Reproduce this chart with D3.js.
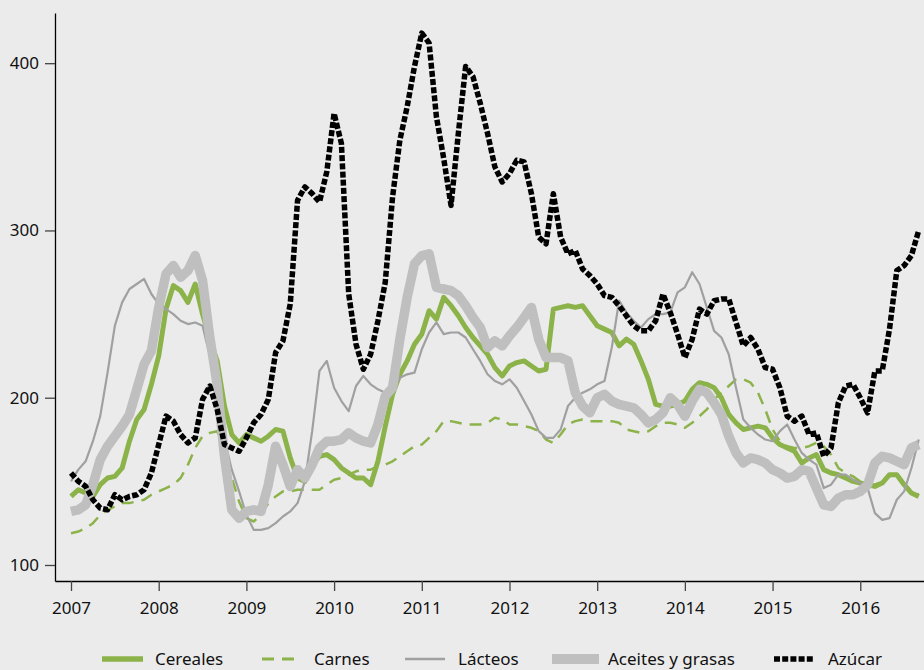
<!DOCTYPE html>
<html>
<head>
<meta charset="utf-8">
<script src="https://cdn.jsdelivr.net/npm/d3@7"></script>
<style>
  html, body { margin: 0; padding: 0; background: #ebebeb; }
  svg { display: block; }
  text { font-family: "Noto Sans", "Open Sans", sans-serif; fill: #111; }
</style>
</head>
<body>
<svg id="chart" width="924" height="670"></svg>
<script>
// ---- DATA (monthly, Jan 2007 .. Sep 2016) ----
const startYear = 2007;
const yearLabels = ["2007","2008","2009","2010","2011","2012","2013","2014","2015","2016"];
const yTicks = [100, 200, 300, 400];
const seriesNames = ["Cereales", "Carnes", "Lácteos", "Aceites y grasas", "Azúcar"];

const cereales = [
  141,145,143,141,148,152,153,158,174,187,193,208,225,253,267,264,257,268,250,235,222,195,178,173,178,176,174,177,181,180,
  164,152,150,160,165,166,163,158,155,152,152,148,162,183,202,214,222,232,238,252,247,260,255,249,242,236,231,226,218,213,219,
  221,222,219,216,217,253,254,255,254,255,249,243,241,239,231,235,232,222,211,196,195,195,196,198,205,209,208,206,200,190,
  185,181,182,183,182,176,172,170,168,161,164,166,157,155,154,152,150,149,148,147,149,154,154,148,143,141
];
const carnes = [
  119,120,122,125,130,133,135,137,137,138,139,142,144,146,148,152,160,170,177,179,180,170,152,138,128,126,130,137,141,144,
  144,145,145,145,145,148,151,152,154,156,157,157,159,160,162,165,168,171,172,176,180,186,186,185,184,184,184,185,188,187,184,
  184,183,182,180,175,173,178,184,186,187,186,186,186,186,185,181,180,179,180,183,185,185,184,182,185,189,193,199,203,207,
  211,211,209,203,193,181,174,171,170,170,171,173,171,166,158,155,153,150,149,148,150,153,154,149,144,142
];
const lacteos = [
  150,157,162,174,189,215,243,257,265,268,271,262,256,253,250,246,244,245,243,225,200,175,157,144,130,121,121,122,125,129,
  132,137,150,180,216,222,206,198,192,207,213,208,205,203,204,212,214,215,229,239,245,238,239,239,236,229,222,214,210,208,211,
  206,198,190,180,176,176,181,195,200,203,205,208,210,230,258,251,246,242,247,250,250,251,263,266,275,268,254,240,236,226,
  206,187,182,178,175,174,180,184,175,167,163,160,146,148,154,154,151,149,146,131,127,128,139,144,158,175
];
const aceites = [
  132,133,136,148,163,171,177,183,190,205,220,228,254,274,279,272,276,285,270,236,208,165,133,128,132,133,132,148,171,160,
  147,157,152,160,170,174,174,175,179,176,174,173,184,201,206,235,260,280,285,286,266,265,264,261,255,248,242,230,234,231,237,
  242,248,254,235,224,224,224,222,203,195,191,200,202,198,196,195,194,190,185,187,191,200,196,189,198,205,203,197,190,177,
  167,161,164,163,161,157,155,152,153,157,156,146,136,135,140,142,142,144,148,161,165,164,162,160,170,172
];
const azucar = [
  155,150,147,139,134,133,142,139,141,142,145,155,172,189,186,178,173,176,199,207,193,172,170,168,176,185,190,199,227,234,
  256,318,326,322,317,335,370,352,262,232,217,226,246,269,320,354,374,398,418,412,368,343,315,358,398,392,376,358,338,329,334,
  342,341,322,296,292,322,296,286,288,277,273,268,261,260,255,249,243,240,240,246,262,251,238,224,235,253,250,258,259,259,
  245,231,236,229,218,217,206,189,186,189,178,179,165,170,197,207,208,200,191,216,216,241,276,279,285,300
];
const seriesValues = [cereales, carnes, lacteos, aceites, azucar];

// ---- STYLES ----
const styles = [
  { color: "#8cb34a", width: 5,   dash: null },
  { color: "#8cb34a", width: 2.5, dash: "12,8" },
  { color: "#a0a0a0", width: 2.2, dash: null },
  { color: "#bfbfbf", width: 9.5, dash: null },
  { color: "#000000", width: 5.5, dash: "6,2.2" }
];
const legendX = [102, 262, 405, 552, 774];
const legendW = [41, 33, 40, 47, 41];
const legendTextX = [155, 314, 458, 608, 828];

const svg = d3.select("#chart");

const x = d3.scaleLinear().domain([-2.19, 116.72]).range([55, 924]);
const y = d3.scaleLinear().domain([90.43, 430]).range([581, 13]);

// clip for plot
svg.append("defs").append("clipPath").attr("id", "clip")
  .append("rect").attr("x", 55).attr("y", 0).attr("width", 869).attr("height", 581);

const line = d3.line().x((d, i) => x(i)).y(d => y(d));

const plot = svg.append("g").attr("clip-path", "url(#clip)");
seriesValues.forEach((vals, k) => {
  const st = styles[k];
  plot.append("path")
    .datum(vals)
    .attr("d", line)
    .attr("fill", "none")
    .attr("stroke", st.color)
    .attr("stroke-width", st.width)
    .attr("stroke-linejoin", "round")
    .attr("stroke-dasharray", st.dash);
});

// axes
const xAxis = d3.axisBottom(x)
  .tickValues(yearLabels.map((yl) => (+yl - startYear) * 12))
  .tickFormat((d, i) => yearLabels[i])
  .tickSize(10).tickSizeOuter(0).tickPadding(11);
const gx = svg.append("g").attr("transform", "translate(0,581)").call(xAxis);
gx.select(".domain").attr("stroke", "#000").attr("stroke-width", 1.3);
gx.selectAll(".tick line").attr("stroke", "#444").attr("stroke-width", 1.3);
gx.selectAll("text").attr("font-size", 17).attr("fill", "#111")
  .attr("font-family", "'Noto Sans', sans-serif");

const yAxis = d3.axisLeft(y)
  .tickValues(yTicks)
  .tickSize(10).tickSizeOuter(0).tickPadding(6);
const gy = svg.append("g").attr("transform", "translate(55,0)").call(yAxis);
gy.select(".domain").attr("stroke", "#000").attr("stroke-width", 1.3);
gy.selectAll(".tick line").attr("stroke", "#444").attr("stroke-width", 1.3);
gy.selectAll("text").attr("font-size", 17).attr("fill", "#111")
  .attr("font-family", "'Noto Sans', sans-serif");

// legend
const lg = svg.append("g");
seriesNames.forEach((name, k) => {
  const st = styles[k];
  lg.append("line")
    .attr("x1", legendX[k]).attr("x2", legendX[k] + legendW[k])
    .attr("y1", 659).attr("y2", 659)
    .attr("stroke", st.color)
    .attr("stroke-width", k === 3 ? 10 : (k === 2 ? 2.5 : (k === 1 ? 3 : 5.5)))
    .attr("stroke-dasharray", st.dash);
  lg.append("text")
    .attr("x", legendTextX[k]).attr("y", 665)
    .attr("font-size", 17)
    .text(name);
});
</script>
</body>
</html>
